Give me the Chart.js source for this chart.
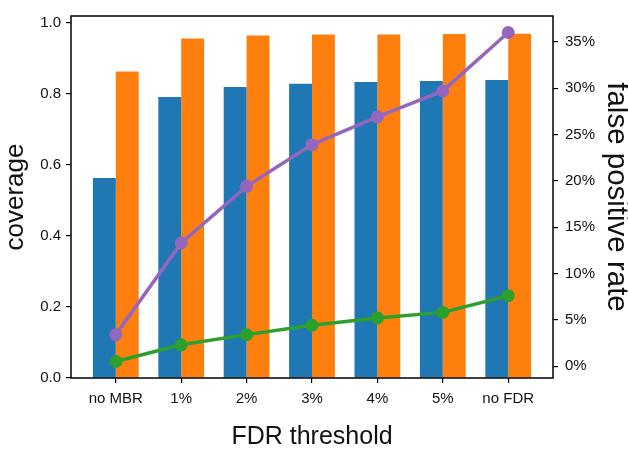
<!DOCTYPE html>
<html>
<head>
<meta charset="utf-8">
<script src="https://cdn.jsdelivr.net/npm/chart.js@4/dist/chart.umd.min.js"></script>
<style>
  html, body { margin: 0; padding: 0; background: #fff; }
  #wrap { width: 628px; height: 450px; }
</style>
</head>
<body>
<div id="wrap"><canvas id="chart" width="628" height="450"></canvas></div>
<script>
// data
const categories = ["no MBR", "1%", "2%", "3%", "4%", "5%", "no FDR"];
const coverageBlue = [0.563, 0.791, 0.819, 0.828, 0.833, 0.836, 0.839];
const coverageOrange = [0.863, 0.956, 0.964, 0.967, 0.967, 0.968, 0.969];
const fprPurple = [3.4, 13.3, 19.4, 23.9, 26.9, 29.7, 36.0];
const fprGreen = [0.5, 2.3, 3.4, 4.4, 5.2, 5.8, 7.6];
const leftTicks = [0, 0.2, 0.4, 0.6, 0.8, 1.0];
const rightTicks = [0, 5, 10, 15, 20, 25, 30, 35];

const font = "'Liberation Sans', Arial, sans-serif";
const toPoints = (arr) => arr.map((v, i) => ({ x: i, y: v }));

// matplotlib style frame round the plot area
const framePlugin = {
  id: "frame",
  afterDraw(chart) {
    const a = chart.chartArea;
    const ctx = chart.ctx;
    ctx.save();
    ctx.strokeStyle = "#000";
    ctx.lineWidth = 1.5;
    ctx.strokeRect(a.left, a.top, a.right - a.left, a.bottom - a.top);
    ctx.restore();
  },
};

new Chart(document.getElementById("chart"), {
  type: "bar",
  plugins: [framePlugin],
  data: {
    datasets: [
      {
        type: "line",
        data: toPoints(fprPurple),
        yAxisID: "y2",
        borderColor: "#9467bd",
        backgroundColor: "#9467bd",
        borderWidth: 3.5,
        pointRadius: 6.5,
        pointBorderWidth: 0,
        order: 0,
      },
      {
        type: "line",
        data: toPoints(fprGreen),
        yAxisID: "y2",
        borderColor: "#2ca02c",
        backgroundColor: "#2ca02c",
        borderWidth: 3.5,
        pointRadius: 6.5,
        pointBorderWidth: 0,
        order: 0,
      },
      {
        data: toPoints(coverageBlue),
        yAxisID: "y",
        backgroundColor: "#1f77b4",
        categoryPercentage: 0.7,
        barPercentage: 1.0,
        order: 1,
      },
      {
        data: toPoints(coverageOrange),
        yAxisID: "y",
        backgroundColor: "#ff7f0e",
        categoryPercentage: 0.7,
        barPercentage: 1.0,
        order: 1,
      },
    ],
  },
  options: {
    responsive: false,
    animation: false,
    layout: { padding: { top: 5, left: 0, right: 0, bottom: 0 } },
    plugins: { legend: { display: false }, tooltip: { enabled: false } },
    scales: {
      x: {
        type: "linear",
        offset: false,
        min: -0.685,
        max: 6.685,
        afterBuildTicks: (s) => { s.ticks = categories.map((_, i) => ({ value: i })); },
        afterFit: (s) => { s.height = 72; },
        grid: { offset: false, drawOnChartArea: false, drawTicks: true, tickLength: 5, color: "#000", lineWidth: 1.2 },
        border: { display: false },
        ticks: {
          padding: 7,
          color: "#111",
          font: { family: font, size: 15 },
          callback: (v) => categories[v],
        },
        title: {
          display: true,
          text: "FDR threshold",
          color: "#111",
          padding: 0,
          font: { family: font, size: 25, lineHeight: 1.0 },
        },
      },
      y: {
        position: "left",
        min: 0,
        max: 1.019,
        afterBuildTicks: (s) => { s.ticks = leftTicks.map((v) => ({ value: v })); },
        afterFit: (s) => { s.width = 71; },
        grid: { drawOnChartArea: false, drawTicks: true, tickLength: 5, color: "#000", lineWidth: 1.2 },
        border: { display: false },
        ticks: {
          padding: 5,
          color: "#111",
          font: { family: font, size: 15 },
          callback: (v) => v.toFixed(1),
        },
        title: {
          display: true,
          text: "coverage",
          color: "#111",
          padding: 0,
          font: { family: font, size: 26, lineHeight: 1.2 },
        },
      },
      y2: {
        position: "right",
        min: -1.28,
        max: 37.78,
        afterBuildTicks: (s) => { s.ticks = rightTicks.map((v) => ({ value: v })); },
        afterFit: (s) => { s.width = 75; },
        grid: { drawOnChartArea: false, drawTicks: true, tickLength: 5, color: "#000", lineWidth: 1.2 },
        border: { display: false },
        ticks: {
          padding: 7,
          color: "#111",
          font: { family: font, size: 15 },
          callback: (v) => v + "%",
        },
        title: {
          display: true,
          text: "false positive rate",
          color: "#111",
          padding: 0,
          font: { family: font, size: 29.5, lineHeight: 0.8 },
        },
      },
    },
  },
});
</script>
</body>
</html>
